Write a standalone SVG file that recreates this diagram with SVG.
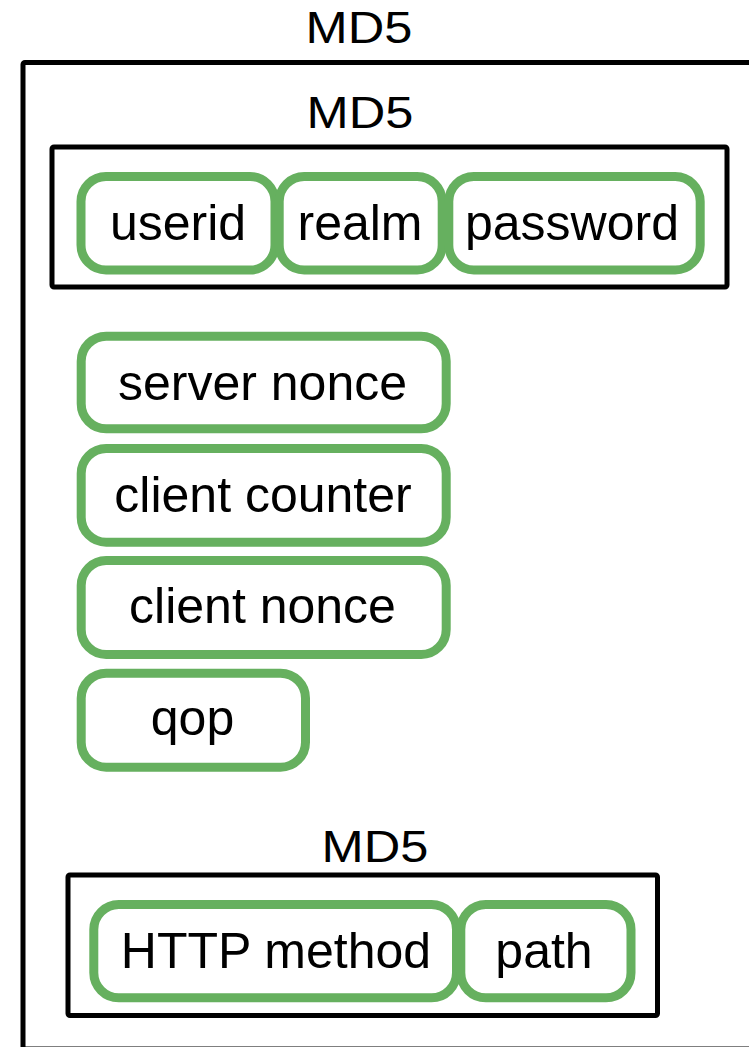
<svg xmlns="http://www.w3.org/2000/svg" width="749" height="1047" viewBox="0 0 749 1047">
  <style>
    .frame { fill: none; stroke: #000; stroke-width: 5; }
    .field { fill: none; stroke: #66b05f; stroke-width: 9; }
    .label { font-family: "Liberation Sans", Arial, Helvetica, sans-serif; font-size: 50px; fill: #000; text-anchor: middle; }
    .title { font-family: "Liberation Sans", Arial, Helvetica, sans-serif; font-size: 44px; fill: #000; text-anchor: middle; }
  </style>
  <rect width="749" height="1047" fill="#fff"/>

  <!-- outer MD5 frame -->
  <g id="md5-outer">
    <rect class="frame" x="23" y="62.5" width="760" height="986.5" rx="2"/>
    <text class="title" transform="translate(359 42.5) scale(1.15 1)">MD5</text>
  </g>

  <!-- HA1: userid, realm, password -->
  <g id="md5-ha1">
    <rect class="frame" x="52" y="147" width="675" height="140" rx="2"/>
    <text class="title" transform="translate(360 127.5) scale(1.15 1)">MD5</text>
  </g>
  <g id="userid">
    <rect class="field" x="81" y="176.5" width="194" height="93.5" rx="25"/>
    <text class="label" x="178" y="240">userid</text>
  </g>
  <g id="realm">
    <rect class="field" x="279.2" y="176.5" width="163" height="93.5" rx="25"/>
    <text class="label" x="360" y="240">realm</text>
  </g>
  <g id="password">
    <rect class="field" x="448.8" y="176.5" width="251.4" height="93.5" rx="25"/>
    <text class="label" x="572" y="240">password</text>
  </g>

  <!-- plain fields -->
  <g id="server-nonce">
    <rect class="field" x="81.2" y="336.2" width="365" height="92.6" rx="25"/>
    <text class="label" x="262.5" y="399.5">server nonce</text>
  </g>
  <g id="client-counter">
    <rect class="field" x="81.2" y="448.5" width="365" height="93.7" rx="25"/>
    <text class="label" x="263" y="511.7">client counter</text>
  </g>
  <g id="client-nonce">
    <rect class="field" x="81.2" y="560.5" width="365" height="94" rx="25"/>
    <text class="label" x="262.5" y="623.3">client nonce</text>
  </g>
  <g id="qop">
    <rect class="field" x="81.2" y="673.2" width="224.3" height="94" rx="25"/>
    <text class="label" x="192.5" y="735">qop</text>
  </g>

  <!-- HA2: HTTP method, path -->
  <g id="md5-ha2">
    <rect class="frame" x="68" y="875" width="589.5" height="140.5" rx="2"/>
    <text class="title" transform="translate(375 861.5) scale(1.15 1)">MD5</text>
  </g>
  <g id="http-method">
    <rect class="field" x="93.8" y="904.5" width="362.7" height="93.3" rx="25"/>
    <text class="label" x="276" y="967.7">HTTP method</text>
  </g>
  <g id="path">
    <rect class="field" x="460.8" y="904.5" width="170.2" height="93.3" rx="25"/>
    <text class="label" x="544" y="967.7">path</text>
  </g>

  <g id="connectors"/>
</svg>
